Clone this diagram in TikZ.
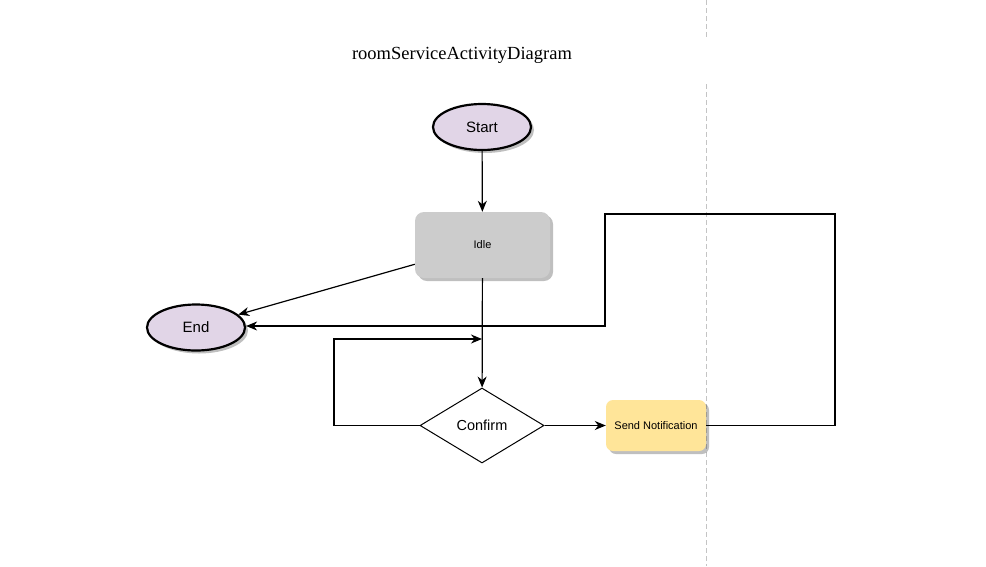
\documentclass[tikz,border=0pt]{standalone}
\usepackage{fontspec}
\setmainfont{Liberation Sans}
\newfontfamily\titlefont{Liberation Serif}
\usetikzlibrary{arrows.meta,shapes.geometric,shadows,calc}
\definecolor{termfill}{HTML}{E1D5E7}
\definecolor{idlefill}{HTML}{CCCCCC}
\definecolor{notefill}{HTML}{FFE599}
\definecolor{lanegray}{HTML}{C4C4C4}
\begin{document}
\begin{tikzpicture}[x=1pt,y=-1pt,
  shade/.style={drop shadow={shadow xshift=3pt,shadow yshift=-3pt,opacity=0.25,fill=black}},
  terminal/.style={ellipse,draw=black,line width=2.2pt,fill=termfill,minimum width=98pt,minimum height=46pt,inner sep=0pt,font=\fontsize{15}{17}\selectfont,shade},
  statebox/.style={rectangle,rounded corners=9pt,fill=idlefill,minimum width=135pt,minimum height=66pt,inner sep=0pt,font=\fontsize{11}{13}\selectfont,shade},
  notebox/.style={rectangle,rounded corners=7pt,fill=notefill,minimum width=100pt,minimum height=51pt,inner sep=0pt,font=\fontsize{11}{13}\selectfont,shade},
  choice/.style={diamond,draw=black,line width=1pt,fill=white,minimum width=124pt,minimum height=75pt,inner sep=0pt,aspect=1.65,font=\fontsize{14.5}{17}\selectfont},
  flow/.style={line width=1.2pt,draw=black},
  arr/.style={flow,-{Stealth[length=11pt,width=9pt,inset=3.5pt]}}
]
\useasboundingbox (0,0) rectangle (986,566);
\fill[white] (0,0) rectangle (986,566);
% lane divider
\draw[lanegray,line width=1pt,dash pattern=on 5pt off 3pt] (706,0) -- (706,37);
\draw[lanegray,line width=1pt,dash pattern=on 5pt off 3pt] (706,84) -- (706,566);
% title
\node (title) at (462,55) {\titlefont\fontsize{18.5}{21}\selectfont roomServiceActivityDiagram};
% nodes
\node[terminal] (start) at (482,127) {Start};
\node[statebox] (idle) at (482.5,245) {Idle};
\node[terminal] (end) at (196,327.5) {End};
\node[choice] (confirm) at (482,425.5) {Confirm};
\node[notebox] (notify) at (656,425.5) {Send Notification};
% helper coordinates
\coordinate (idleout) at ($(idle.south west)!0.21!(idle.north west)$);
\coordinate (loopin) at (482,339);
% connectors
\draw[arr] (start) -- (idle);
\draw[arr] (idleout) -- (end.17);
\draw[arr] (idle) -- (confirm);
\draw[arr] (confirm.west) -- (334,425.5) -- (334,339) -- (loopin);
\draw[arr] (confirm.east) -- (notify.west);
\draw[arr] (notify.east) -- (835,425.5) -- (835,214) -- (605,214) -- (605,326) -- (end.east |- 0,326) ;
\end{tikzpicture}
\end{document}
